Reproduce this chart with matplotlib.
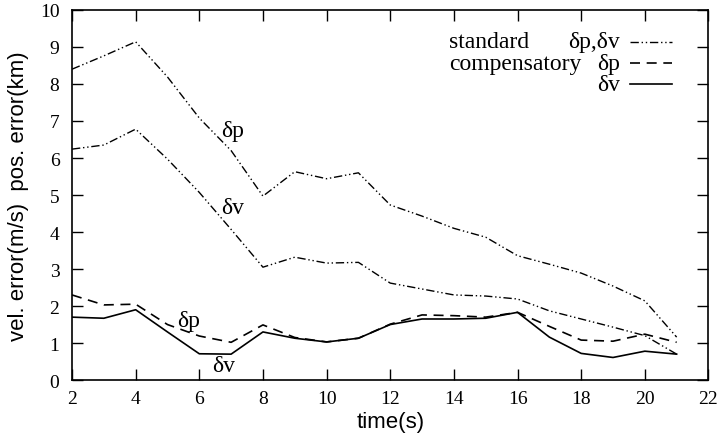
import matplotlib
matplotlib.use("Agg")
import matplotlib.pyplot as plt

# time axis (s)
t = [2, 3, 4, 5, 6, 7, 8, 9, 10, 11, 12, 13, 14, 15, 16, 17, 18, 19, 20, 21]

# standard filter: position error (km) and velocity error (m/s)
std_dp = [8.4, 8.76, 9.14, 8.19, 7.08, 6.2, 4.97, 5.63, 5.44, 5.6,
          4.73, 4.43, 4.1, 3.86, 3.36, 3.13, 2.89, 2.54, 2.14, 1.16]
std_dv = [6.24, 6.35, 6.78, 5.97, 5.07, 4.07, 3.05, 3.32, 3.16, 3.18,
          2.62, 2.46, 2.3, 2.27, 2.19, 1.87, 1.65, 1.43, 1.2, 0.7]

# compensatory filter
cmp_dp = [2.3, 2.03, 2.05, 1.5, 1.19, 1.02, 1.49, 1.15, 1.03, 1.13,
          1.51, 1.76, 1.74, 1.7, 1.83, 1.45, 1.08, 1.05, 1.24, 1.02]
cmp_dv = [1.7, 1.67, 1.9, 1.3, 0.71, 0.7, 1.3, 1.13, 1.03, 1.13,
          1.5, 1.65, 1.65, 1.67, 1.83, 1.16, 0.72, 0.61, 0.78, 0.7]

SERIF = ["Liberation Serif", "DejaVu Serif"]
SANS = ["Liberation Sans", "DejaVu Sans"]
DASHDOT2 = (6, 2, 1, 2, 1, 2)
DASHED = (6, 4)

fig = plt.figure(figsize=(7.2, 4.39), dpi=100)
ax = fig.add_axes([0.1, 0.132, 0.884, 0.843])

ax.plot(t, std_dp, color="black", lw=1.0, dashes=DASHDOT2)
ax.plot(t, std_dv, color="black", lw=1.0, dashes=DASHDOT2)
ax.plot(t, cmp_dp, color="black", lw=1.2, dashes=DASHED)
ax.plot(t, cmp_dv, color="black", lw=1.2, ls="-")

# curve labels
ax.text(7.05, 6.75, "δp", family=SERIF, fontsize=17, ha="center", va="center")
ax.text(7.05, 4.65, "δv", family=SERIF, fontsize=17, ha="center", va="center")
ax.text(5.65, 1.6, "δp", family=SERIF, fontsize=17, ha="center", va="center")
ax.text(6.75, 0.38, "δv", family=SERIF, fontsize=17, ha="center", va="center")

# hand-made legend (labels to the left of the line samples)
rows = [(0.914, "δp,δv", DASHDOT2, 1.0), (0.856, "δp", DASHED, 1.2), (0.799, "δv", None, 1.2)]
for y, lab, dash, lw in rows:
    ax.text(0.861, y, lab, transform=ax.transAxes, family=SERIF, fontsize=17,
            ha="right", va="center")
    kw = {"dashes": dash} if dash else {"ls": "-"}
    ax.plot([0.877, 0.943], [y, y], transform=ax.transAxes, color="black", lw=lw, **kw)
ax.text(0.593, 0.914, "standard", transform=ax.transAxes, family=SERIF, fontsize=17,
        ha="left", va="center")
ax.text(0.593, 0.856, "compensatory", transform=ax.transAxes, family=SERIF, fontsize=17,
        ha="left", va="center")

ax.set_xlim(2, 22)
ax.set_ylim(0, 10)
ax.set_xticks(range(2, 23, 2))
ax.set_yticks(range(0, 11))
ax.tick_params(direction="in", length=8, width=1, top=True, right=True, labelsize=14, pad=7)
for lab in ax.get_xticklabels() + ax.get_yticklabels():
    lab.set_family(SERIF)
ax.tick_params(axis="x", labeltop=False)
ax.tick_params(axis="y", labelright=False, pad=9)
for sp in ax.spines.values():
    sp.set_linewidth(1.2)

ax.set_xlabel("time(s)", family=SANS, fontsize=16, labelpad=3)
ax.set_ylabel("vel. error(m/s)  pos. error(km)", family=SANS, fontsize=16, labelpad=8)

fig.savefig("out.png", dpi=100)
